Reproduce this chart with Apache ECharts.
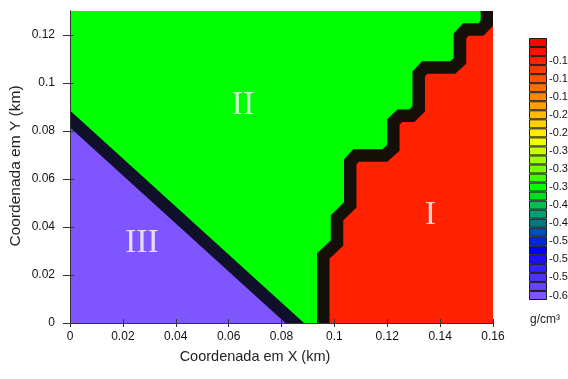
<!DOCTYPE html>
<html><head><meta charset="utf-8">
<script src="https://cdn.jsdelivr.net/npm/echarts@6/dist/echarts.min.js"></script>
<style>html,body{margin:0;padding:0;background:#fff}#c{width:568px;height:379px}</style>
</head><body><div id="c"></div>
<script>
// ---- axis ticks ----
const xTicks = [0, 0.02, 0.04, 0.06, 0.08, 0.1, 0.12, 0.14, 0.16];
const xTickLabels = ['0', '0.02', '0.04', '0.06', '0.08', '0.1', '0.12', '0.14', '0.16'];
const yTicks = [0, 0.02, 0.04, 0.06, 0.08, 0.1, 0.12];
const yTickLabels = ['0', '0.02', '0.04', '0.06', '0.08', '0.1', '0.12'];

// ---- regions (density contrast, g/cm3) ----
const regionNames = ['I', 'II', 'III'];
const regionValues = [-0.10, -0.38, -0.62];
const regionLabelX = [0.1363, 0.0654, 0.0272];
const regionLabelY = [0.045, 0.091, 0.0335];

// boundary I / II (staircase), km
const stairX = [0.0958, 0.0958, 0.1010, 0.1010, 0.1060, 0.1060, 0.1082, 0.1191, 0.1223, 0.1223, 0.1248, 0.1293, 0.1319, 0.1319, 0.1342, 0.1448, 0.1475, 0.1475, 0.1497, 0.1554, 0.1577, 0.1577];
const stairY = [-0.01, 0.0279, 0.0333, 0.0438, 0.0492, 0.0671, 0.0698, 0.0698, 0.0729, 0.0838, 0.0864, 0.0864, 0.0892, 0.1038, 0.1065, 0.1065, 0.1092, 0.1196, 0.1223, 0.1223, 0.1250, 0.14];
// boundary III / II (straight), km
const diagX = [-0.01, 0.095];
const diagY = [0.095, -0.01];
// model domain
const domainX = [0, 0.16];
const domainY = [0, 0.13];

// ---- colour scale ----
const scaleValues = [-0.06, -0.08, -0.10, -0.12, -0.14, -0.16, -0.18, -0.20, -0.22, -0.24, -0.26, -0.28, -0.30, -0.32, -0.34, -0.36, -0.38, -0.40, -0.42, -0.44, -0.46, -0.48, -0.50, -0.52, -0.54, -0.56, -0.58, -0.60, -0.62];
const scaleColors = ['#ff0000', '#ff1000', '#ff2200', '#ff3c00', '#ff5500', '#ff6e00', '#ff8700', '#ffa000', '#ffb900', '#ffd200', '#ffeb00', '#f0ff00', '#c8ff00', '#a0ff00', '#78ff00', '#3cff00', '#00ff00', '#00e020', '#00c050', '#00a070', '#007a80', '#0050b0', '#0028e0', '#0000ff', '#1a10ff', '#3322ff', '#4d33ff', '#6644ff', '#7f55ff'];
const scaleLabels = ['-0.10', '-0.14', '-0.18', '-0.22', '-0.26', '-0.30', '-0.34', '-0.38', '-0.42', '-0.46', '-0.50', '-0.54', '-0.58', '-0.62'];

function colorFor(v) {
  let best = 0;
  scaleValues.forEach((s, i) => { if (Math.abs(s - v) < Math.abs(scaleValues[best] - v)) best = i; });
  return scaleColors[best];
}
function idxOf(arr, v) { return arr.findIndex(a => Math.abs(a - v) < 1e-9); }

function polygonItem(xs, ys, color) {
  return function (params, api) {
    const pts = xs.map((x, i) => api.coord([x, ys[i]]));
    return { type: 'polygon', shape: { points: pts }, style: { fill: color } };
  };
}
function bandItem(xs, ys, color, w) {
  return function (params, api) {
    const pts = xs.map((x, i) => api.coord([x, ys[i]]));
    return { type: 'polyline', shape: { points: pts }, style: { stroke: color, lineWidth: w, fill: null, lineJoin: 'miter' } };
  };
}

// polygons built from the boundary arrays
const regionIIx = [domainX[0], domainX[1], domainX[1], domainX[0]];
const regionIIy = [domainY[0], domainY[0], domainY[1], domainY[1]];
const regionIIIx = diagX.concat([diagX[0]]);
const regionIIIy = diagY.concat([diagY[1]]);
const regionIx = stairX.concat([0.17, 0.17]);
const regionIy = stairY.concat([stairY[stairY.length - 1], stairY[0]]);

const chart = echarts.init(document.getElementById('c'), null, { renderer: 'canvas' });
const axisColor = '#333';
const lblFont = { fontSize: 12, fontFamily: 'Liberation Sans', color: '#111' };

chart.setOption({
  animation: false,
  backgroundColor: '#fff',
  grid: [
    { left: 70, top: 11, width: 423, height: 312, show: false, containLabel: false, outerBoundsMode: 'none' },
    { left: 529, top: 38, width: 18, height: 262, show: false, containLabel: false, outerBoundsMode: 'none' }
  ],
  xAxis: [
    { gridIndex: 0, type: 'value', min: domainX[0], max: domainX[1], position: 'bottom', z: 10,
      axisLine: { show: true, lineStyle: { color: axisColor } },
      axisTick: { show: true, customValues: xTicks, length: 4, lineStyle: { color: axisColor } },
      axisLabel: Object.assign({ customValues: xTicks, margin: 8, formatter: v => xTickLabels[idxOf(xTicks, v)] }, lblFont),
      splitLine: { show: false } },
    { gridIndex: 0, type: 'value', min: domainX[0], max: domainX[1], position: 'top', z: 10,
      axisLine: { show: true, lineStyle: { color: axisColor } },
      axisTick: { show: true, customValues: xTicks, length: 4, lineStyle: { color: axisColor } },
      axisLabel: { show: false }, splitLine: { show: false } },
    { gridIndex: 1, type: 'value', min: 0, max: 1, show: false }
  ],
  yAxis: [
    { gridIndex: 0, type: 'value', min: domainY[0], max: domainY[1], position: 'left', z: 10,
      axisLine: { show: true, lineStyle: { color: axisColor } },
      axisTick: { show: true, customValues: yTicks, length: 7, lineStyle: { color: axisColor } },
      axisLabel: Object.assign({ customValues: yTicks, margin: 15, formatter: v => yTickLabels[idxOf(yTicks, v)] }, lblFont),
      splitLine: { show: false } },
    { gridIndex: 0, type: 'value', min: domainY[0], max: domainY[1], position: 'right', z: 10,
      axisLine: { show: true, lineStyle: { color: axisColor } },
      axisTick: { show: true, customValues: yTicks, length: 4, lineStyle: { color: axisColor } },
      axisLabel: { show: false }, splitLine: { show: false } },
    { gridIndex: 1, type: 'category', data: scaleValues.map(v => v.toFixed(2)), inverse: true, position: 'right',
      axisLine: { show: false }, axisTick: { show: false }, splitLine: { show: false },
      axisLabel: { interval: 0, margin: 2, fontSize: 11, fontFamily: 'Liberation Sans', color: '#111', hideOverlap: false,
        formatter: (v, i) => (i >= 2 && i % 2 === 0) ? scaleLabels[(i - 2) / 2] : '' } }
  ],
  graphic: [
    { type: 'text', x: 255, y: 357, style: { text: 'Coordenada em X (km)', fontSize: 14.5, fontFamily: 'Liberation Sans', fill: '#222', align: 'center', verticalAlign: 'middle' } },
    { type: 'text', x: 16, y: 166, rotation: Math.PI / 2, style: { text: 'Coordenada em Y (km)', fontSize: 15.5, fontFamily: 'Liberation Sans', fill: '#222', align: 'center', verticalAlign: 'middle' } },
    { type: 'text', x: 545, y: 320, style: { text: 'g/cm³', fontSize: 12, fontFamily: 'Liberation Sans', fill: '#222', align: 'center', verticalAlign: 'middle' } }
  ],
  series: [
    { type: 'custom', name: 'II', xAxisIndex: 0, yAxisIndex: 0, clip: true, silent: true, z: 1, data: [[0, 0]],
      renderItem: polygonItem(regionIIx, regionIIy, colorFor(regionValues[1])) },
    { type: 'custom', name: 'III', xAxisIndex: 0, yAxisIndex: 0, clip: true, silent: true, z: 2, data: [[0, 0]],
      renderItem: polygonItem(regionIIIx, regionIIIy, colorFor(regionValues[2])) },
    { type: 'custom', name: 'I', xAxisIndex: 0, yAxisIndex: 0, clip: true, silent: true, z: 2, data: [[0, 0]],
      renderItem: polygonItem(regionIx, regionIy, colorFor(regionValues[0])) },
    { type: 'custom', name: 'band III-II', xAxisIndex: 0, yAxisIndex: 0, clip: true, silent: true, z: 3, data: [[0, 0]],
      renderItem: bandItem(diagX, diagY, '#10102a', 12.5) },
    { type: 'custom', name: 'band I-II', xAxisIndex: 0, yAxisIndex: 0, clip: true, silent: true, z: 3, data: [[0, 0]],
      renderItem: bandItem(stairX, stairY, '#141008', 12.5) },
    { type: 'scatter', xAxisIndex: 0, yAxisIndex: 0, symbolSize: 0, silent: true, z: 4,
      data: regionNames.map((n, i) => [regionLabelX[i], regionLabelY[i], n]),
      label: { show: true, position: 'inside', formatter: p => p.data[2], color: '#fff', fontSize: 34, fontFamily: 'Liberation Serif' } },
    { type: 'bar', xAxisIndex: 2, yAxisIndex: 2, barCategoryGap: '0%', silent: true,
      data: scaleColors.map(c => ({ value: 1, itemStyle: { color: c } })),
      itemStyle: { borderColor: '#1a1a1a', borderWidth: 1 } }
  ]
});
</script>
</body></html>
